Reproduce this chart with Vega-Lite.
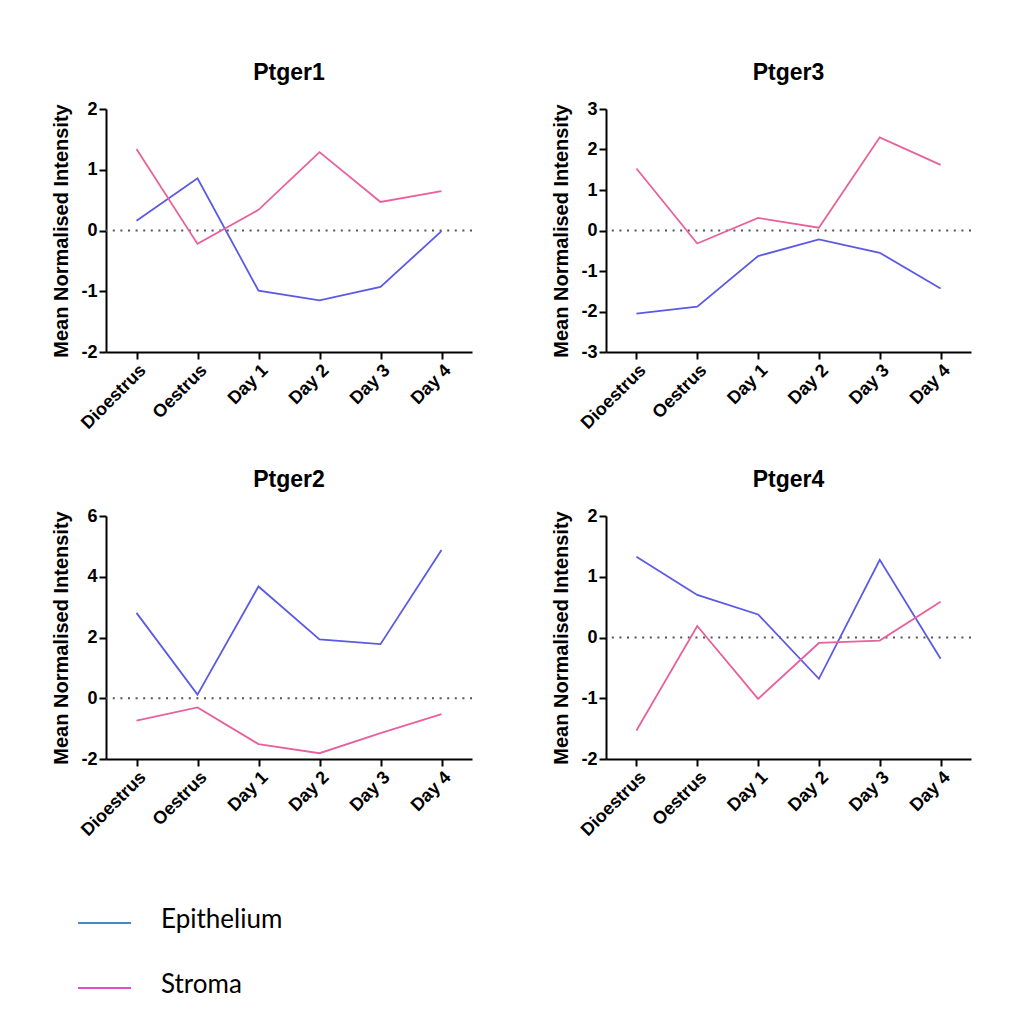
{
  "$schema": "https://vega.github.io/schema/vega-lite/v6.json",
  "background": "white",
  "padding": {"left": 51, "top": 62, "right": 5, "bottom": 5},
  "bounds": "flush",
  "columns": 2,
  "spacing": {"row": 164, "column": 134},
  "datasets": {
    "d": [
      {"gene": "Ptger1", "series": "Epithelium", "stage": "Dioestrus", "value": 0.16},
      {"gene": "Ptger1", "series": "Epithelium", "stage": "Oestrus", "value": 0.86},
      {"gene": "Ptger1", "series": "Epithelium", "stage": "Day 1", "value": -0.99},
      {"gene": "Ptger1", "series": "Epithelium", "stage": "Day 2", "value": -1.15},
      {"gene": "Ptger1", "series": "Epithelium", "stage": "Day 3", "value": -0.93},
      {"gene": "Ptger1", "series": "Epithelium", "stage": "Day 4", "value": -0.01},
      {"gene": "Ptger1", "series": "Stroma", "stage": "Dioestrus", "value": 1.34},
      {"gene": "Ptger1", "series": "Stroma", "stage": "Oestrus", "value": -0.22},
      {"gene": "Ptger1", "series": "Stroma", "stage": "Day 1", "value": 0.34},
      {"gene": "Ptger1", "series": "Stroma", "stage": "Day 2", "value": 1.29},
      {"gene": "Ptger1", "series": "Stroma", "stage": "Day 3", "value": 0.47},
      {"gene": "Ptger1", "series": "Stroma", "stage": "Day 4", "value": 0.65},
      {"gene": "Ptger3", "series": "Epithelium", "stage": "Dioestrus", "value": -2.05},
      {"gene": "Ptger3", "series": "Epithelium", "stage": "Oestrus", "value": -1.88},
      {"gene": "Ptger3", "series": "Epithelium", "stage": "Day 1", "value": -0.63},
      {"gene": "Ptger3", "series": "Epithelium", "stage": "Day 2", "value": -0.22},
      {"gene": "Ptger3", "series": "Epithelium", "stage": "Day 3", "value": -0.55},
      {"gene": "Ptger3", "series": "Epithelium", "stage": "Day 4", "value": -1.43},
      {"gene": "Ptger3", "series": "Stroma", "stage": "Dioestrus", "value": 1.53},
      {"gene": "Ptger3", "series": "Stroma", "stage": "Oestrus", "value": -0.32},
      {"gene": "Ptger3", "series": "Stroma", "stage": "Day 1", "value": 0.31},
      {"gene": "Ptger3", "series": "Stroma", "stage": "Day 2", "value": 0.07},
      {"gene": "Ptger3", "series": "Stroma", "stage": "Day 3", "value": 2.30},
      {"gene": "Ptger3", "series": "Stroma", "stage": "Day 4", "value": 1.62},
      {"gene": "Ptger2", "series": "Epithelium", "stage": "Dioestrus", "value": 2.81},
      {"gene": "Ptger2", "series": "Epithelium", "stage": "Oestrus", "value": 0.12},
      {"gene": "Ptger2", "series": "Epithelium", "stage": "Day 1", "value": 3.68},
      {"gene": "Ptger2", "series": "Epithelium", "stage": "Day 2", "value": 1.94},
      {"gene": "Ptger2", "series": "Epithelium", "stage": "Day 3", "value": 1.78},
      {"gene": "Ptger2", "series": "Epithelium", "stage": "Day 4", "value": 4.88},
      {"gene": "Ptger2", "series": "Stroma", "stage": "Dioestrus", "value": -0.74},
      {"gene": "Ptger2", "series": "Stroma", "stage": "Oestrus", "value": -0.30},
      {"gene": "Ptger2", "series": "Stroma", "stage": "Day 1", "value": -1.51},
      {"gene": "Ptger2", "series": "Stroma", "stage": "Day 2", "value": -1.81},
      {"gene": "Ptger2", "series": "Stroma", "stage": "Day 3", "value": -1.15},
      {"gene": "Ptger2", "series": "Stroma", "stage": "Day 4", "value": -0.52},
      {"gene": "Ptger4", "series": "Epithelium", "stage": "Dioestrus", "value": 1.33},
      {"gene": "Ptger4", "series": "Epithelium", "stage": "Oestrus", "value": 0.70},
      {"gene": "Ptger4", "series": "Epithelium", "stage": "Day 1", "value": 0.38},
      {"gene": "Ptger4", "series": "Epithelium", "stage": "Day 2", "value": -0.68},
      {"gene": "Ptger4", "series": "Epithelium", "stage": "Day 3", "value": 1.28},
      {"gene": "Ptger4", "series": "Epithelium", "stage": "Day 4", "value": -0.35},
      {"gene": "Ptger4", "series": "Stroma", "stage": "Dioestrus", "value": -1.53},
      {"gene": "Ptger4", "series": "Stroma", "stage": "Oestrus", "value": 0.19},
      {"gene": "Ptger4", "series": "Stroma", "stage": "Day 1", "value": -1.01},
      {"gene": "Ptger4", "series": "Stroma", "stage": "Day 2", "value": -0.09},
      {"gene": "Ptger4", "series": "Stroma", "stage": "Day 3", "value": -0.05},
      {"gene": "Ptger4", "series": "Stroma", "stage": "Day 4", "value": 0.59}
    ]
  },
  "config": {
    "view": {"stroke": null},
    "font": "Liberation Sans",
    "axis": {
      "grid": false,
      "domainColor": "black",
      "domainWidth": 2,
      "tickColor": "black",
      "tickWidth": 2,
      "tickSize": 7,
      "labelColor": "black",
      "labelFont": "Liberation Sans",
      "labelFontSize": 18,
      "labelFontWeight": "bold",
      "labelPadding": 2,
      "titleColor": "black",
      "titleFont": "Liberation Sans",
      "titleFontSize": 20,
      "titleFontWeight": "bold"
    },
    "title": {
      "font": "Liberation Sans",
      "fontSize": 23,
      "fontWeight": "bold",
      "color": "black",
      "anchor": "middle",
      "offset": 15
    }
  },
  "concat": [
    {
      "title": "Ptger1",
      "width": 366,
      "height": 243,
      "layer": [
        {
          "data": {"values": [{"zero": 0}]},
          "mark": {"type": "rule", "strokeDash": [2, 5.6], "strokeWidth": 2, "color": "#555555"},
          "encoding": {"y": {"field": "zero", "type": "quantitative"}}
        },
        {
          "data": {"name": "d"},
          "transform": [{"filter": "datum.gene === 'Ptger1'"}],
          "mark": {"type": "line", "strokeWidth": 1.8},
          "encoding": {
            "x": {"field": "stage", "type": "nominal", "sort": ["Dioestrus", "Oestrus", "Day 1", "Day 2", "Day 3", "Day 4"], "scale": {"type": "point", "padding": 0.5}, "axis": {"title": null, "labelAngle": -45}},
            "y": {"field": "value", "type": "quantitative", "scale": {"domain": [-2, 2], "nice": false, "zero": false}, "axis": {"title": "Mean Normalised Intensity", "values": [-2, -1, 0, 1, 2], "labelExpr": "'' + datum.value", "titlePadding": 9}},
            "color": {"field": "series", "type": "nominal", "scale": {"domain": ["Epithelium", "Stroma"], "range": ["#5a5ae4", "#e8609c"]}, "legend": null}
          }
        }
      ]
    },
    {
      "title": "Ptger3",
      "width": 365,
      "height": 243,
      "layer": [
        {
          "data": {"values": [{"zero": 0}]},
          "mark": {"type": "rule", "strokeDash": [2, 5.6], "strokeWidth": 2, "color": "#555555"},
          "encoding": {"y": {"field": "zero", "type": "quantitative"}}
        },
        {
          "data": {"name": "d"},
          "transform": [{"filter": "datum.gene === 'Ptger3'"}],
          "mark": {"type": "line", "strokeWidth": 1.8},
          "encoding": {
            "x": {"field": "stage", "type": "nominal", "sort": ["Dioestrus", "Oestrus", "Day 1", "Day 2", "Day 3", "Day 4"], "scale": {"type": "point", "padding": 0.5}, "axis": {"title": null, "labelAngle": -45}},
            "y": {"field": "value", "type": "quantitative", "scale": {"domain": [-3, 3], "nice": false, "zero": false}, "axis": {"title": "Mean Normalised Intensity", "values": [-3, -2, -1, 0, 1, 2, 3], "labelExpr": "'' + datum.value", "titlePadding": 9}},
            "color": {"field": "series", "type": "nominal", "scale": {"domain": ["Epithelium", "Stroma"], "range": ["#5a5ae4", "#e8609c"]}, "legend": null}
          }
        }
      ]
    },
    {
      "title": "Ptger2",
      "width": 366,
      "height": 243,
      "layer": [
        {
          "data": {"values": [{"zero": 0}]},
          "mark": {"type": "rule", "strokeDash": [2, 5.6], "strokeWidth": 2, "color": "#555555"},
          "encoding": {"y": {"field": "zero", "type": "quantitative"}}
        },
        {
          "data": {"name": "d"},
          "transform": [{"filter": "datum.gene === 'Ptger2'"}],
          "mark": {"type": "line", "strokeWidth": 1.8},
          "encoding": {
            "x": {"field": "stage", "type": "nominal", "sort": ["Dioestrus", "Oestrus", "Day 1", "Day 2", "Day 3", "Day 4"], "scale": {"type": "point", "padding": 0.5}, "axis": {"title": null, "labelAngle": -45}},
            "y": {"field": "value", "type": "quantitative", "scale": {"domain": [-2, 6], "nice": false, "zero": false}, "axis": {"title": "Mean Normalised Intensity", "values": [-2, 0, 2, 4, 6], "labelExpr": "'' + datum.value", "titlePadding": 9}},
            "color": {"field": "series", "type": "nominal", "scale": {"domain": ["Epithelium", "Stroma"], "range": ["#5a5ae4", "#e8609c"]}, "legend": null}
          }
        }
      ]
    },
    {
      "title": "Ptger4",
      "width": 365,
      "height": 243,
      "layer": [
        {
          "data": {"values": [{"zero": 0}]},
          "mark": {"type": "rule", "strokeDash": [2, 5.6], "strokeWidth": 2, "color": "#555555"},
          "encoding": {"y": {"field": "zero", "type": "quantitative"}}
        },
        {
          "data": {"name": "d"},
          "transform": [{"filter": "datum.gene === 'Ptger4'"}],
          "mark": {"type": "line", "strokeWidth": 1.8},
          "encoding": {
            "x": {"field": "stage", "type": "nominal", "sort": ["Dioestrus", "Oestrus", "Day 1", "Day 2", "Day 3", "Day 4"], "scale": {"type": "point", "padding": 0.5}, "axis": {"title": null, "labelAngle": -45}},
            "y": {"field": "value", "type": "quantitative", "scale": {"domain": [-2, 2], "nice": false, "zero": false}, "axis": {"title": "Mean Normalised Intensity", "values": [-2, -1, 0, 1, 2], "labelExpr": "'' + datum.value", "titlePadding": 9}},
            "color": {"field": "series", "type": "nominal", "scale": {"domain": ["Epithelium", "Stroma"], "range": ["#5a5ae4", "#e8609c"]}, "legend": null}
          }
        }
      ]
    },
    {
      "width": 366,
      "height": 65,
      "data": {"values": [{"label": "Epithelium"}, {"label": "Stroma"}]},
      "encoding": {
        "y": {"field": "label", "type": "nominal", "sort": ["Epithelium", "Stroma"], "scale": {"type": "point", "padding": 0}, "axis": null}
      },
      "layer": [
        {
          "mark": {"type": "rule", "strokeWidth": 2, "clip": false},
          "encoding": {
            "x": {"datum": -28, "type": "quantitative", "scale": {"domain": [0, 366], "nice": false, "zero": false}, "axis": null},
            "x2": {"datum": 25},
            "stroke": {"field": "label", "type": "nominal", "scale": {"domain": ["Epithelium", "Stroma"], "range": ["#4a86c6", "#e24ccc"]}, "legend": null}
          }
        },
        {
          "mark": {"type": "text", "align": "left", "baseline": "middle", "font": "Lato", "fontSize": 26, "color": "black", "dy": -3},
          "encoding": {
            "x": {"datum": 55, "type": "quantitative"},
            "text": {"field": "label"}
          }
        }
      ]
    }
  ]
}
